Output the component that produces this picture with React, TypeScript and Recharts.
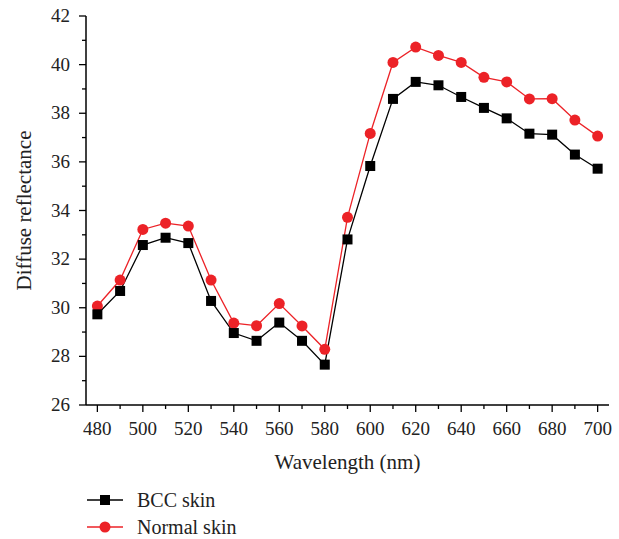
import { LineChart, Line, XAxis, YAxis, Label, Legend } from 'recharts'

const wavelengths = [480, 490, 500, 510, 520, 530, 540, 550, 560, 570, 580, 590, 600, 610, 620, 630, 640, 650, 660, 670, 680, 690, 700]
const bccSkin = [29.73, 30.69, 32.58, 32.88, 32.66, 30.28, 28.96, 28.64, 29.39, 28.64, 27.66, 32.81, 35.83, 38.59, 39.29, 39.15, 38.67, 38.22, 37.79, 37.16, 37.12, 36.3, 35.72]
const normalSkin = [30.07, 31.14, 33.22, 33.48, 33.36, 31.14, 29.37, 29.26, 30.17, 29.25, 28.29, 33.72, 37.17, 40.09, 40.72, 40.38, 40.09, 39.48, 39.29, 38.59, 38.6, 37.72, 37.06]
const xTicks = [480, 490, 500, 510, 520, 530, 540, 550, 560, 570, 580, 590, 600, 610, 620, 630, 640, 650, 660, 670, 680, 690, 700]
const yTicks = [26, 27, 28, 29, 30, 31, 32, 33, 34, 35, 36, 37, 38, 39, 40, 41, 42]

const data = wavelengths.map((w, i) => ({ w, bcc: bccSkin[i], normal: normalSkin[i] }))

const FONT = '"Liberation Serif", "DejaVu Serif", serif'
const RED = '#ec2227'

const XTick = (props: any) => {
  const { x, y, payload } = props
  const major = payload.value % 20 === 0
  return (
    <g>
      <line x1={x} x2={x} y1={y} y2={y + (major ? 7 : 4)} stroke="#000" strokeWidth={1.3} />
      {major && (
        <text x={x} y={y + 30} textAnchor="middle" fontSize={19} fontFamily={FONT} fill="#222">
          {payload.value}
        </text>
      )}
    </g>
  )
}

const YTick = (props: any) => {
  const { x, y, payload } = props
  const major = payload.value % 2 === 0
  return (
    <g>
      <line x1={x} x2={x - (major ? 7 : 4)} y1={y} y2={y} stroke="#000" strokeWidth={1.3} />
      {major && (
        <text x={x - 16} y={y + 6} textAnchor="end" fontSize={19} fontFamily={FONT} fill="#222">
          {payload.value}
        </text>
      )}
    </g>
  )
}

const SquareDot = (props: any) => {
  const { cx, cy } = props
  return <rect x={cx - 5} y={cy - 5} width={10} height={10} fill="#000" />
}

const CircleDot = (props: any) => {
  const { cx, cy } = props
  return <circle cx={cx} cy={cy} r={5.5} fill={RED} />
}

const LegendBox = () => (
  <svg width={200} height={52} style={{ overflow: 'visible' }}>
    <line x1={0} x2={36} y1={12} y2={12} stroke="#000" strokeWidth={1.3} />
    <rect x={13} y={7} width={10} height={10} fill="#000" />
    <text x={50} y={19} fontSize={20} fontFamily={FONT} fill="#222">BCC skin</text>
    <line x1={0} x2={36} y1={39} y2={39} stroke={RED} strokeWidth={1.3} />
    <circle cx={18} cy={39} r={5.5} fill={RED} />
    <text x={50} y={46} fontSize={20} fontFamily={FONT} fill="#222">Normal skin</text>
  </svg>
)

export default function App() {
  return (
    <div style={{ position: 'absolute', left: 0, top: 0, background: '#fff' }}>
      <LineChart width={619} height={539} data={data} margin={{ top: 16, right: 10, bottom: 0, left: 0 }}>
        <XAxis
          dataKey="w"
          type="number"
          domain={[475, 705]}
          ticks={xTicks}
          interval={0}
          height={134}
          tickSize={0}
          tickMargin={0}
          tick={<XTick />}
          axisLine={{ stroke: '#000', strokeWidth: 1.5 }}
        >
          <Label
            content={(p: any) => (
              <text x={p.viewBox.x + p.viewBox.width / 2} y={p.viewBox.y + 64} textAnchor="middle" fontSize={21} fontFamily={FONT} fill="#222">
                Wavelength (nm)
              </text>
            )}
          />
        </XAxis>
        <YAxis
          type="number"
          domain={[26, 42]}
          ticks={yTicks}
          interval={0}
          width={86}
          tickSize={0}
          tickMargin={0}
          tick={<YTick />}
          axisLine={{ stroke: '#000', strokeWidth: 1.5 }}
        >
          <Label
            content={(p: any) => {
              const cy = p.viewBox.y + p.viewBox.height / 2
              return (
                <text x={31} y={cy} transform={`rotate(-90, 31, ${cy})`} textAnchor="middle" fontSize={21} fontFamily={FONT} fill="#222">
                  Diffuse reflectance
                </text>
              )
            }}
          />
        </YAxis>
        <Legend
          layout="horizontal"
          verticalAlign="middle"
          align="center"
          content={<LegendBox />}
          wrapperStyle={{ left: 87, top: 488, width: 200, height: 52 }}
        />
        <Line
          type="linear"
          dataKey="normal"
          name="Normal skin"
          stroke={RED}
          strokeWidth={1.3}
          dot={<CircleDot />}
          isAnimationActive={false}
        />
        <Line
          type="linear"
          dataKey="bcc"
          name="BCC skin"
          stroke="#000"
          strokeWidth={1.3}
          dot={<SquareDot />}
          isAnimationActive={false}
        />
      </LineChart>
    </div>
  )
}
